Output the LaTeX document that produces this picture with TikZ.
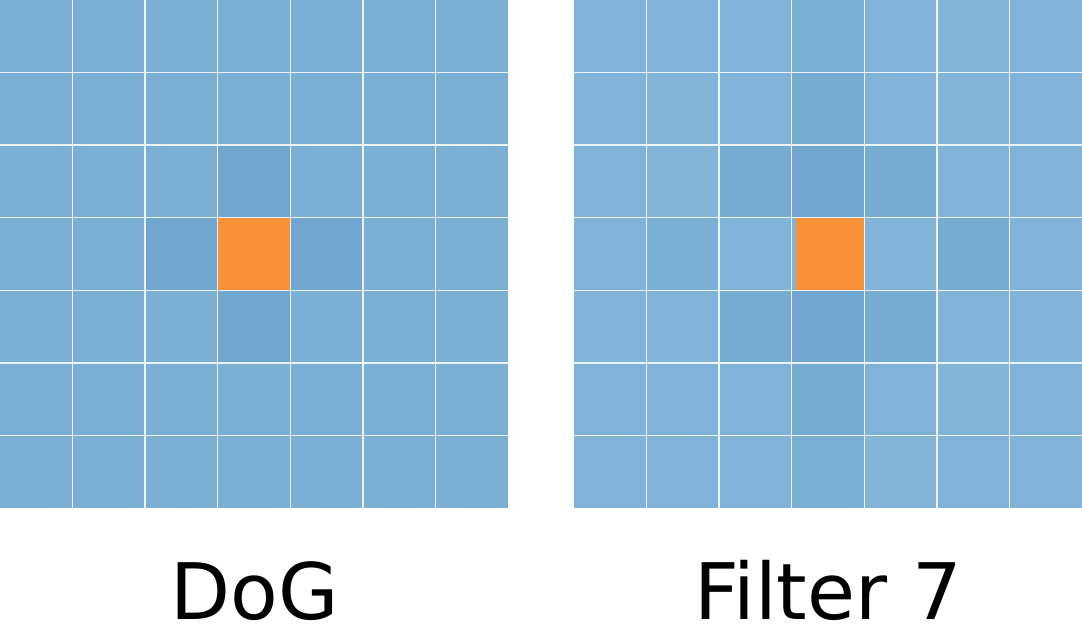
\documentclass[tikz,border=0pt]{standalone}
\usepackage{fontspec}
\setmainfont{DejaVu Sans}
\definecolor{bA}{HTML}{80B3D7}
\definecolor{bL}{HTML}{7BAFD4}
\definecolor{bM}{HTML}{77ACD2}
\definecolor{bD}{HTML}{71A6CE}
\definecolor{bX}{HTML}{83B5D8}
\definecolor{org}{HTML}{F79238}
\tikzset{
  gridline/.style={white, line width=1.4pt, opacity=0.85},
  label/.style={anchor=base, font=\fontsize{78}{80}\selectfont, inner sep=0pt}
}
\begin{document}
\begin{tikzpicture}[x=1pt,y=-1pt]
\useasboundingbox (0,0) rectangle (1082,636);
\def\cs{72.571}
% left grid (DoG)
\foreach \r/\c/\col in {
0/0/bL,0/1/bL,0/2/bL,0/3/bL,0/4/bL,0/5/bL,0/6/bL,
1/0/bL,1/1/bL,1/2/bL,1/3/bL,1/4/bL,1/5/bL,1/6/bL,
2/0/bL,2/1/bL,2/2/bL,2/3/bD,2/4/bL,2/5/bL,2/6/bL,
3/0/bL,3/1/bL,3/2/bD,3/3/org,3/4/bD,3/5/bL,3/6/bL,
4/0/bL,4/1/bL,4/2/bL,4/3/bD,4/4/bL,4/5/bL,4/6/bL,
5/0/bL,5/1/bL,5/2/bL,5/3/bL,5/4/bL,5/5/bL,5/6/bL,
6/0/bL,6/1/bL,6/2/bL,6/3/bL,6/4/bL,6/5/bL,6/6/bL}
  \fill[\col] (\c*\cs,\r*\cs) rectangle ++(\cs,\cs);
% right grid (Filter 7)
\foreach \r/\c/\col in {
0/0/bA,0/1/bA,0/2/bA,0/3/bL,0/4/bA,0/5/bX,0/6/bA,
1/0/bA,1/1/bX,1/2/bA,1/3/bM,1/4/bA,1/5/bX,1/6/bA,
2/0/bA,2/1/bX,2/2/bM,2/3/bD,2/4/bM,2/5/bA,2/6/bA,
3/0/bA,3/1/bL,3/2/bA,3/3/bA,3/4/bA,3/5/bM,3/6/bA,
4/0/bA,4/1/bA,4/2/bM,4/3/bD,4/4/bM,4/5/bA,4/6/bA,
5/0/bA,5/1/bA,5/2/bA,5/3/bM,5/4/bA,5/5/bX,5/6/bA,
6/0/bA,6/1/bA,6/2/bA,6/3/bL,6/4/bX,6/5/bA,6/6/bA}
  \fill[\col] (574+\c*\cs,\r*\cs) rectangle ++(\cs,\cs);
\fill[org] (796,218) rectangle (864,290);
% grid lines
\foreach \i in {1,...,6} {
  \draw[gridline] (\i*\cs,0) -- (\i*\cs,508);
  \draw[gridline] (0,\i*\cs) -- (508,\i*\cs);
  \draw[gridline] (574+\i*\cs,0) -- (574+\i*\cs,508);
  \draw[gridline] (574,\i*\cs) -- (1082,\i*\cs);
}
\node[label] (dog) at (255,619) {DoG};
\node[label] (f7) at (828,619) {Filter 7};
\end{tikzpicture}
\end{document}
